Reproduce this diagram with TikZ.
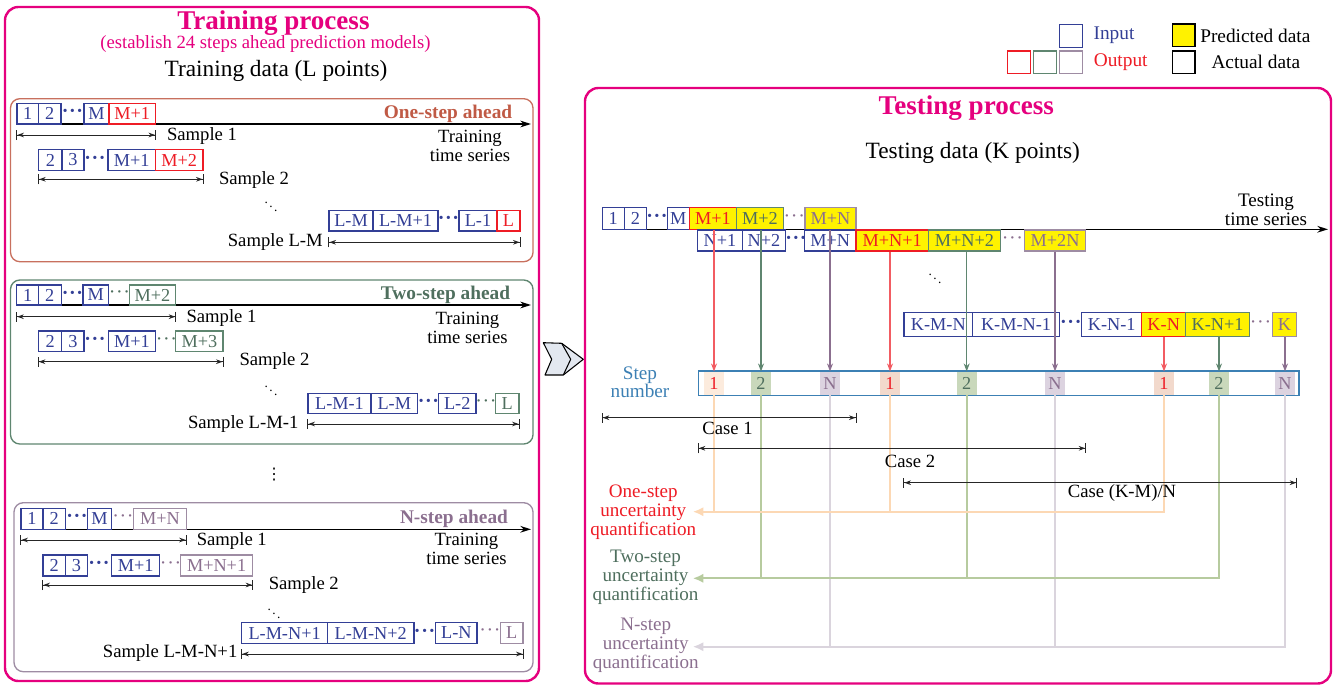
\documentclass[tikz,border=0pt]{standalone}
\usepackage{fontspec}
\setmainfont{Liberation Serif}
\newfontfamily\djv{DejaVu Sans}
\usetikzlibrary{arrows.meta}
\definecolor{cmag}{HTML}{E5007E}
\definecolor{cblue}{HTML}{333F96}
\definecolor{cred}{HTML}{EE1C25}
\definecolor{cgrn}{HTML}{4F6F5E}
\definecolor{cgrnb}{HTML}{5F8670}
\definecolor{cpur}{HTML}{8B6F8F}
\definecolor{cpurb}{HTML}{9E8CA3}
\definecolor{cbrown}{HTML}{C05A45}
\definecolor{cbrownb}{HTML}{C8705E}
\definecolor{cyel}{HTML}{FFF200}
\definecolor{cstep}{HTML}{3C80B4}
\definecolor{cfo}{HTML}{FCEBDD}
\definecolor{cfoo}{HTML}{F2D9CC}
\definecolor{cfg}{HTML}{C9D8BB}
\definecolor{cfp}{HTML}{DCD3E0}
\definecolor{lor}{HTML}{FCD8B4}
\definecolor{lgr}{HTML}{B7CB9F}
\definecolor{lpu}{HTML}{DAD4DD}
\definecolor{ared}{HTML}{F25C62}
\definecolor{cchev}{HTML}{E3E8F0}
\newcommand\fs[2]{\fontsize{#1pt}{#2pt}\selectfont}
\newcommand\dts{·\kern0.5pt·\kern0.5pt·}
\newcommand\mybox[7]{\node[#1, minimum width={(#4-#3)*0.75pt}, minimum height={(#6-#5)*0.75pt}] (#2) at ({(#3+#4)/2},{(#5+#6)/2}) {#7};}
\tikzset{
 pinkbox/.style={draw=cmag, line width=1.8pt, rounded corners=10pt, inner sep=0pt},
 sub/.style={line width=1pt, rounded corners=7pt, inner sep=0pt},
 bx/.style={line width=0.9pt, inner sep=0pt, fill=white, font=\fs{13.7}{15}},
 bin/.style={bx, draw=cblue, text=cblue},
 bred/.style={bx, draw=cred, text=cred},
 bgrn/.style={bx, draw=cgrnb, text=cgrn},
 bpur/.style={bx, draw=cpurb, text=cpur},
 yred/.style={bx, fill=cyel, draw=cred, text=cred},
 ygrn/.style={bx, fill=cyel, draw=cgrnb, text=cgrn},
 ypur/.style={bx, fill=cyel, draw=cpurb, text=cpur},
 dotb/.style={inner sep=0pt, font=\fs{15}{15}\bfseries, text=cblue},
 dotc/.style={inner sep=0pt, font=\fs{15}{15}},
 lbl/.style={inner sep=0pt, font=\fs{14}{16}},
 lgl/.style={inner sep=0pt, font=\fs{14.5}{17}},
 ttl/.style={inner sep=0pt, font=\fs{14.5}{17}\bfseries},
 tts/.style={inner sep=0pt, font=\fs{14}{13.7}, align=center},
 tline/.style={line width=1pt, -{Stealth[length=8pt,width=5pt]}},
 dimar/.style={line width=0.7pt, draw=black!85, {Bar[width=7.5pt]Stealth[length=5pt,width=3.5pt]}-{Stealth[length=5pt,width=3.5pt]Bar[width=7.5pt]}},
 stepbar/.style={draw=cstep, line width=0.9pt, fill=white, inner sep=0pt},
 cell/.style={inner sep=0pt, font=\fs{13.7}{15}},
 varr/.style={line width=0.8pt, -{Stealth[length=6pt,width=4.5pt]}},
 uline/.style={line width=1.6pt},
 uarr/.style={uline, -{Latex[length=8pt,width=7pt]}},
 ulab/.style={inner sep=0pt, font=\fs{14.3}{14.25}, align=center}
}
\begin{document}
\begin{tikzpicture}[x=0.75pt,y=-0.75pt]
\useasboundingbox (0,0) rectangle (1338,685);
% ---------------- outer boxes
\mybox{pinkbox}{trainbox}{5}{539}{7}{681}{}
\mybox{pinkbox}{testbox}{585}{1331}{88}{683.5}{}
\node[inner sep=0pt, font=\fs{20.3}{24}\bfseries, text=cmag] (trtitle) at (273.4,23) {Training process};
\node[inner sep=0pt, font=\fs{14}{16}, text=cmag] (trsub) at (265.5,44) {(establish 24 steps ahead prediction models)};
\node[inner sep=0pt, font=\fs{17.5}{20}] (trdata) at (276,71) {Training data (L points)};
% ---------------- sub boxes
\mybox{sub, draw=cbrownb}{boxA}{10.5}{533}{98.7}{261.7}{}
\mybox{sub, draw=cgrnb}{boxB}{10.5}{533}{280}{444}{}
\mybox{sub, draw=cpurb}{boxC}{14}{533}{502.7}{671.7}{}
% ---------------- one-step
\coordinate (sa) at (17,124);
\coordinate (ea) at (531,124);
\draw[tline] (sa) -- (ea);
\mybox{bin}{a1}{17}{38.4}{103.3}{124}{1}
\mybox{bin}{a2}{38.4}{61}{103.3}{124}{2}
\node[dotb] (ad) at (72.5,113.7) {\dts};
\mybox{bin}{a3}{84}{109}{103.3}{124}{M}
\mybox{bred}{a4}{109}{155.5}{103.3}{124}{M+1}
\node[ttl, text=cbrown] (atl) at (448,114) {One-step ahead};
\coordinate (ya1) at (0,135);
\draw[dimar] (a1.west |- ya1) -- (a4.east |- ya1);
\node[lbl] (as1) at (202,136) {Sample 1};
\node[tts] (ats) at (470,145.8) {Training\\time series};
\mybox{bin}{b1}{38.7}{62}{149.3}{170.7}{2}
\mybox{bin}{b2}{62}{84}{149.3}{170.7}{3}
\node[dotb] (bd) at (95,160) {\dts};
\mybox{bin}{b3}{108}{155.5}{149.3}{170.7}{M+1}
\mybox{bred}{b4}{155.5}{203}{149.3}{170.7}{M+2}
\coordinate (ya2) at (0,179.3);
\draw[dimar] (b1.west |- ya2) -- (b4.east |- ya2);
\node[lbl] (as2) at (254,180) {Sample 2};
\node[inner sep=0pt] (add) at (271,203) {$\ddots$};
\mybox{bin}{c1}{329}{373}{210.7}{231}{L-M}
\mybox{bin}{c2}{373}{438}{210.7}{231}{L-M+1}
\node[dotb] (cd) at (448.5,220.8) {\dts};
\mybox{bin}{c3}{459}{497}{210.7}{231}{L-1}
\mybox{bred}{c4}{497}{520}{210.7}{231}{L}
\coordinate (ya3) at (0,242.3);
\draw[dimar] (c1.west |- ya3) -- (c4.east |- ya3);
\node[lbl, anchor=east] (as3) at (323,241.7) {Sample L-M};
% ---------------- two-step
\coordinate (sb) at (16.8,305);
\coordinate (eb) at (531,305);
\draw[tline] (sb) -- (eb);
\mybox{bin}{d1}{16.8}{38.4}{285}{305}{1}
\mybox{bin}{d2}{38.4}{61.1}{285}{305}{2}
\node[dotb] (dd1) at (72.5,295) {\dts};
\mybox{bin}{d3}{83}{108.3}{285}{305}{M}
\node[dotc, text=cgrn] (dd2) at (119.5,295) {\dts};
\mybox{bgrn}{d4}{129.3}{175.7}{285}{305}{M+2}
\node[ttl, text=cgrn] (dtl) at (445.5,295) {Two-step ahead};
\coordinate (yb1) at (0,316.7);
\draw[dimar] (d1.west |- yb1) -- (d4.east |- yb1);
\node[lbl] (bs1) at (221.5,317.7) {Sample 1};
\node[tts] (bts) at (467.5,327.8) {Training\\time series};
\mybox{bin}{e1}{38.4}{61.8}{331}{351.7}{2}
\mybox{bin}{e2}{61.8}{83.9}{331}{351.7}{3}
\node[dotb] (ed1) at (95,341.3) {\dts};
\mybox{bin}{e3}{108.3}{155.5}{331}{351.7}{M+1}
\node[dotc, text=cgrn] (ed2) at (166.5,341.3) {\dts};
\mybox{bgrn}{e4}{175.7}{223}{331}{351.7}{M+3}
\coordinate (yb2) at (0,361.7);
\draw[dimar] (e1.west |- yb2) -- (e4.east |- yb2);
\node[lbl] (bs2) at (274.5,360.7) {Sample 2};
\node[inner sep=0pt] (bdd) at (271,386.7) {$\ddots$};
\mybox{bin}{f1}{308}{371}{393.3}{413.3}{L-M-1}
\mybox{bin}{f2}{371}{417.5}{393.3}{413.3}{L-M}
\node[dotb] (fd1) at (428.5,403.3) {\dts};
\mybox{bin}{f3}{438.5}{476}{393.3}{413.3}{L-2}
\node[dotc, text=cgrn] (fd2) at (486,403.3) {\dts};
\mybox{bgrn}{f4}{495.5}{519}{393.3}{413.3}{L}
\coordinate (yb3) at (0,424);
\draw[dimar] (f1.west |- yb3) -- (f4.east |- yb3);
\node[lbl, anchor=east] (bs3) at (298.7,424) {Sample L-M-1};
\node[inner sep=0pt, font=\djv\fs{12}{14}] (vdd) at (274,475) {⋮};
% ---------------- N-step
\coordinate (sc) at (21,529.3);
\coordinate (ec) at (531,529.3);
\draw[tline] (sc) -- (ec);
\mybox{bin}{g1}{21}{43}{508.3}{529.3}{1}
\mybox{bin}{g2}{43}{65.3}{508.3}{529.3}{2}
\node[dotb] (gd1) at (77,518.8) {\dts};
\mybox{bin}{g3}{87.4}{111.8}{508.3}{529.3}{M}
\node[dotc, text=cpur] (gd2) at (123,518.8) {\dts};
\mybox{bpur}{g4}{133.8}{186.2}{508.3}{529.3}{M+N}
\node[ttl, text=cpur] (gtl) at (454,519) {N-step ahead};
\coordinate (yc1) at (0,540);
\draw[dimar] (g1.west |- yc1) -- (g4.east |- yc1);
\node[lbl] (cs1) at (231.8,541) {Sample 1};
\node[tts] (cts) at (466.5,548.8) {Training\\time series};
\mybox{bin}{h1}{43}{65.3}{555}{576}{2}
\mybox{bin}{h2}{65.3}{87.4}{555}{576}{3}
\node[dotb] (hd1) at (99,565.5) {\dts};
\mybox{bin}{h3}{111.8}{159.7}{555}{576}{M+1}
\node[dotc, text=cpur] (hd2) at (170.6,565.5) {\dts};
\mybox{bpur}{h4}{180.6}{252.6}{555}{576}{M+N+1}
\coordinate (yc2) at (0,585);
\draw[dimar] (h1.west |- yc2) -- (h4.east |- yc2);
\node[lbl] (cs2) at (303.8,585) {Sample 2};
\node[inner sep=0pt] (cdd) at (274,610) {$\ddots$};
\mybox{bin}{i1}{241.8}{327.4}{622.7}{643.3}{L-M-N+1}
\mybox{bin}{i2}{327.4}{414}{622.7}{643.3}{L-M-N+2}
\node[dotb] (id1) at (424.6,633) {\dts};
\mybox{bin}{i3}{435.7}{477}{622.7}{643.3}{L-N}
\node[dotc, text=cpur] (id2) at (490,633) {\dts};
\mybox{bpur}{i4}{500.3}{523}{622.7}{643.3}{L}
\coordinate (yc3) at (0,654);
\draw[dimar] (i1.west |- yc3) -- (i4.east |- yc3);
\node[lbl, anchor=east] (cs3) at (237.6,653.3) {Sample L-M-N+1};
% ---------------- chevron
\draw[fill=cchev, line width=0.8pt, line join=round] (543.3,342.7) -- (561.7,343.3) -- (583.3,359.3) -- (563.3,375) -- (545,375) -- (551.7,359.3) -- cycle;
\draw[line width=0.8pt, line join=round] (561.7,343.3) -- (570.7,359.3) -- (563.3,375);
% ---------------- legend
\mybox{bx, draw=cblue}{lgin}{1059.3}{1082.7}{24.3}{47.3}{}
\node[lgl, text=cblue] (lgint) at (1114,35.7) {Input};
\mybox{bx, draw=cred}{lgoa}{1007.3}{1030.7}{51}{73.7}{}
\mybox{bx, draw=cgrnb}{lgob}{1033.3}{1056.7}{51}{73.7}{}
\mybox{bx, draw=cpurb}{lgoc}{1059.3}{1082.7}{51}{73.7}{}
\node[lgl, text=cred] (lgout) at (1120.7,62.3) {Output};
\mybox{bx, fill=cyel, draw=black}{lgp}{1172.7}{1195}{24}{46.7}{}
\node[lgl] (lgpt) at (1255.3,35.7) {Predicted data};
\mybox{bx, draw=black}{lga}{1172.7}{1195}{51}{73.3}{}
\node[lgl] (lgat) at (1255.8,62.3) {Actual data};
% ---------------- testing
\node[inner sep=0pt, font=\fs{20.3}{24}\bfseries, text=cmag] (tetitle) at (966.3,108.3) {Testing process};
\node[inner sep=0pt, font=\fs{17.5}{20}] (tedata) at (972.8,152.7) {Testing data (K points)};
\coordinate (ts) at (602.3,229.3);
\coordinate (te) at (1328,229.3);
\draw[tline] (ts) -- (te);
\node[inner sep=0pt, font=\fs{14.3}{14.25}, align=center] (tts2) at (1266,209.5) {Testing\\time series};
\mybox{bin}{t1}{602.3}{624.3}{207.7}{229.3}{1}
\mybox{bin}{t2}{624.3}{646.7}{207.7}{229.3}{2}
\node[dotb] (td1) at (657,218.5) {\dts};
\mybox{bin}{t3}{667.3}{689.3}{207.7}{229.3}{M}
\mybox{yred}{t4}{689.3}{736.7}{207.7}{229.3}{M+1}
\mybox{ygrn}{t5}{736.7}{783.3}{207.7}{229.3}{M+2}
\node[dotc, text=cpur] (td2) at (794.3,218.5) {\dts};
\mybox{ypur}{t6}{805}{856}{207.7}{229.3}{M+N}
\mybox{bin}{s1}{697.7}{742.3}{230}{251}{N+1}
\mybox{bin}{s2}{742.3}{785.7}{230}{251}{N+2}
\node[dotb] (sd1) at (796,240.5) {\dts};
\mybox{bin}{s3}{804.3}{856}{230}{251}{M+N}
\mybox{yred}{s4}{856}{928.3}{230}{251}{M+N+1}
\mybox{ygrn}{s5}{928.3}{1000.7}{230}{251}{M+N+2}
\node[dotc, text=cpur] (sd2) at (1012.5,240.5) {\dts};
\mybox{ypur}{s6}{1024.3}{1085.7}{230}{251}{M+2N}
\node[inner sep=0pt] (tdd) at (935,275) {$\ddots$};
\mybox{bin}{k1}{904}{972.7}{312.7}{336.7}{K-M-N}
\mybox{bin}{k2}{972.7}{1059.3}{312.7}{336.7}{K-M-N-1}
\node[dotb] (kd1) at (1070.8,324.7) {\dts};
\mybox{bin}{k3}{1081.7}{1141.7}{312.7}{336.7}{K-N-1}
\mybox{yred}{k4}{1141.7}{1185.7}{312.7}{336.7}{K-N}
\mybox{ygrn}{k5}{1185.7}{1249.3}{312.7}{336.7}{K-N+1}
\node[dotc, text=cpur] (kd2) at (1260.5,324.7) {\dts};
\mybox{ypur}{k6}{1272.3}{1296.7}{312.7}{336.7}{K}
% step bar
\node[inner sep=0pt, font=\fs{14.4}{13.3}, align=center, text=cstep] (stepl) at (640,382) {Step\\number};
\mybox{stepbar}{bar}{698.3}{1299}{371}{395.3}{}
\mybox{cell, fill=cfo, text=cred}{q1}{704}{724}{371.7}{394.5}{1}
\mybox{cell, fill=cfg, text=cgrn}{q2}{751}{771}{371.7}{394.5}{2}
\mybox{cell, fill=cfp, text=cpur}{q3}{820}{840}{371.7}{394.5}{N}
\mybox{cell, fill=cfoo, text=cred}{q4}{880}{900}{371.7}{394.5}{1}
\mybox{cell, fill=cfg, text=cgrn}{q5}{956.7}{976.7}{371.7}{394.5}{2}
\mybox{cell, fill=cfp, text=cpur}{q6}{1045}{1065}{371.7}{394.5}{N}
\mybox{cell, fill=cfoo, text=cred}{q7}{1154}{1174}{371.7}{394.5}{1}
\mybox{cell, fill=cfg, text=cgrn}{q8}{1209}{1229}{371.7}{394.5}{2}
\mybox{cell, fill=cfp, text=cpur}{q9}{1275}{1295}{371.7}{394.5}{N}
% arrows to step cells
\draw[varr, ared] (q1.north |- t4.south) -- (q1.north);
\draw[varr, cgrnb] (q2.north |- t5.south) -- (q2.north);
\draw[varr, cpur] (q3.north |- t6.south) -- (q3.north);
\draw[varr, ared] (q4.north |- s4.south) -- (q4.north);
\draw[varr, cgrnb] (q5.north |- s5.south) -- (q5.north);
\draw[varr, cpur] (q6.north |- s6.south) -- (q6.north);
\draw[varr, ared] (q7.north |- k4.south) -- (q7.north);
\draw[varr, cgrnb] (q8.north |- k5.south) -- (q8.north);
\draw[varr, cpur] (q9.north |- k6.south) -- (q9.north);
% uncertainty lines
\coordinate (ua) at (692.7,511.7);
\coordinate (ub) at (692.7,578.3);
\coordinate (uc) at (692.7,646.7);
\draw[uline, lpu] (q3.south) -- (q3.south |- uc);
\draw[uline, lpu] (q6.south) -- (q6.south |- uc);
\draw[uarr, lpu] (q9.south) |- (uc);
\draw[uline, lgr] (q2.south) -- (q2.south |- ub);
\draw[uline, lgr] (q5.south) -- (q5.south |- ub);
\draw[uarr, lgr] (q8.south) |- (ub);
\draw[uline, lor] (q1.south) -- (q1.south |- ua);
\draw[uline, lor] (q4.south) -- (q4.south |- ua);
\draw[uarr, lor] (q7.south) |- (ua);
\node[ulab, text=cred] (ula) at (643.3,512.7) {One-step\\uncertainty\\quantification};
\node[ulab, text=cgrn] (ulb) at (645.5,577.7) {Two-step\\uncertainty\\quantification};
\node[ulab, text=cpur] (ulc) at (645.7,645.7) {N-step\\uncertainty\\quantification};
% cases
\coordinate (cya) at (0,417.7);
\coordinate (cyb) at (0,448.3);
\coordinate (cyc) at (0,482.7);
\draw[dimar] (t1.west |- cya) -- (t6.east |- cya);
\draw[dimar] (bar.west |- cyb) -- (s6.east |- cyb);
\draw[dimar] (k1.west |- cyc) -- (k6.east |- cyc);
\node[lbl] (casea) at (727.5,428.3) {Case 1};
\node[lbl] (caseb) at (910,461.7) {Case 2};
\node[lbl] (casec) at (1122,493.3) {Case (K-M)/N};
\end{tikzpicture}
\end{document}
